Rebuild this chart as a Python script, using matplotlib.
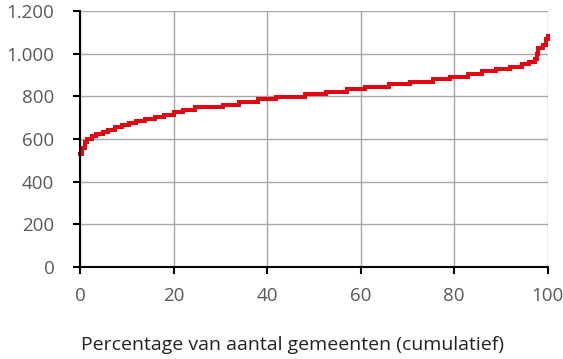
import matplotlib.pyplot as plt
from matplotlib.ticker import FuncFormatter

plt.rcParams['font.family'] = ['Open Sans', 'DejaVu Sans']

# step points: percentage of municipalities (cumulative) vs value
pct = [0, 0.5, 1, 1.5, 2.5, 3.5, 5, 6, 7.5, 9, 10.5, 12, 14, 16, 18, 20, 22, 24.5,
       30.5, 34, 38, 42, 48, 52.5, 57, 61, 66, 70.5, 75.5, 79, 83, 86, 89, 92,
       94.5, 96, 97.3, 97.6, 98, 99, 99.6, 100]
waarde = [530, 560, 585, 600, 615, 625, 635, 645, 655, 665, 675, 685, 695, 705, 715,
          725, 735, 750, 762, 775, 787, 798, 810, 822, 833, 845, 857, 869, 881, 893,
          905, 918, 928, 938, 950, 962, 975, 1000, 1025, 1040, 1070, 1085]

x_ticks = [0, 20, 40, 60, 80, 100]
y_ticks = [0, 200, 400, 600, 800, 1000, 1200]

fig = plt.figure(figsize=(5.63, 3.59), dpi=100)
ax = fig.add_axes([0.142, 0.256, 0.831, 0.713])

ax.plot(pct, waarde, drawstyle='steps-post', color='#E30613', linewidth=2.9,
        solid_joinstyle='miter', zorder=3, clip_on=False)

ax.set_xlim(0, 100)
ax.set_ylim(0, 1200)
ax.set_xticks(x_ticks)
ax.set_yticks(y_ticks)
ax.yaxis.set_major_formatter(FuncFormatter(lambda v, p: f'{int(v):,}'.replace(',', '.')))

ax.grid(True, color='#A6A6A6', linewidth=1.0)
ax.set_axisbelow(True)
for s in ['top', 'right']:
    ax.spines[s].set_visible(False)
for s in ['left', 'bottom']:
    ax.spines[s].set_color('black')
    ax.spines[s].set_linewidth(1.5)
    ax.spines[s].set_zorder(4)

ax.tick_params(axis='both', direction='out', length=5, width=1.5, color='black',
               labelsize=13.5, labelcolor='#595959')
ax.tick_params(axis='y', pad=13.5)
ax.tick_params(axis='x', pad=9)

fig.text(0.52, 0.039, 'Percentage van aantal gemeenten (cumulatief)', ha='center',
         va='center', fontsize=14, color='#222222')

fig.savefig('out.png', dpi=100)
